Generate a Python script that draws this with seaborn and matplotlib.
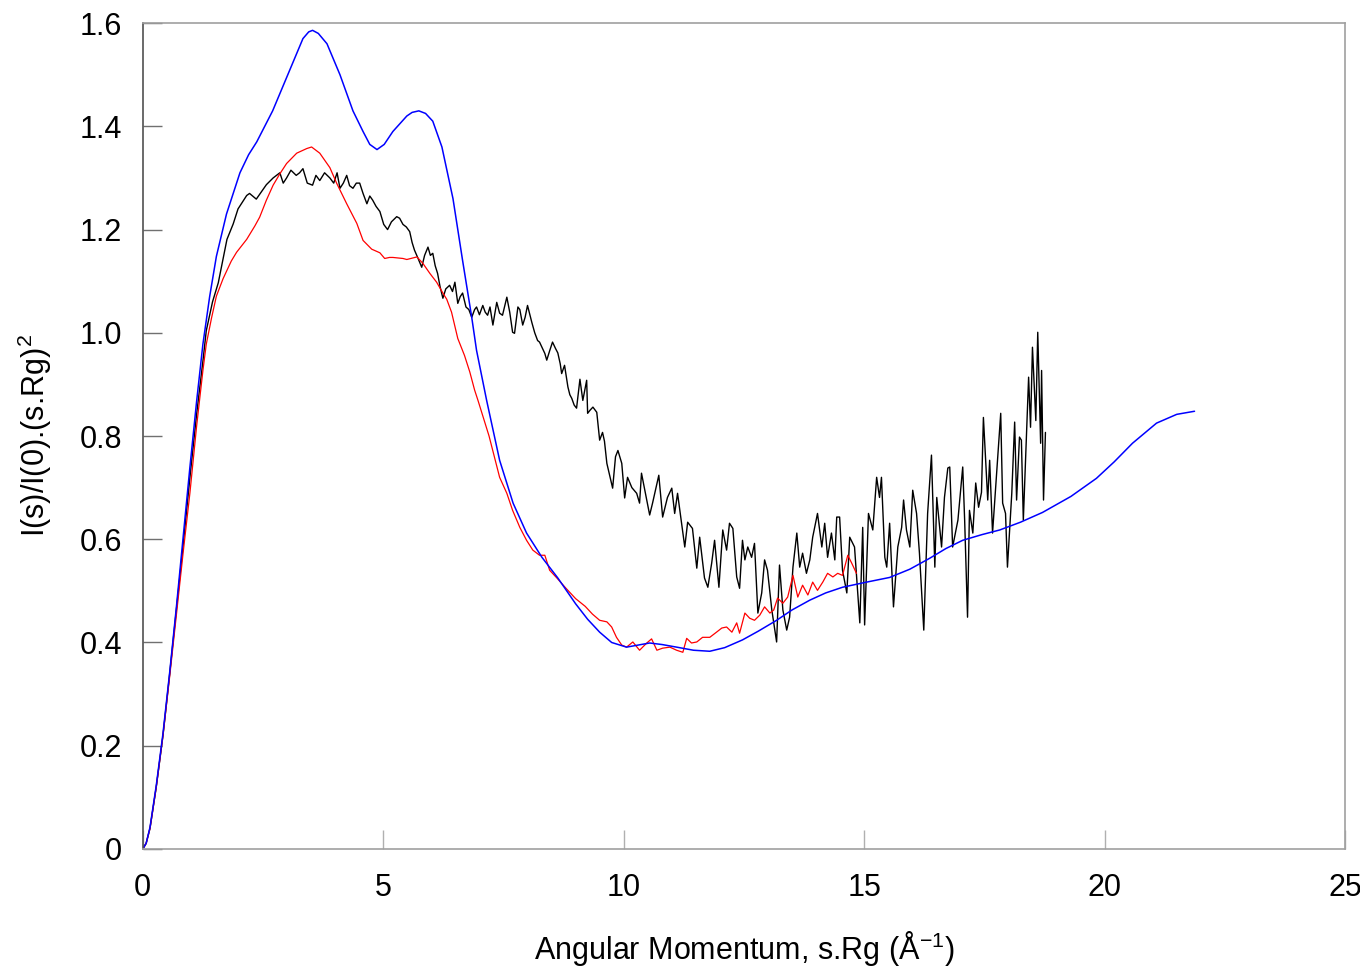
import numpy as np
import pandas as pd
import matplotlib
matplotlib.use("Agg")
import matplotlib.pyplot as plt
import seaborn as sns

# Section 1 - Data

blue_x = [0.0, 0.07, 0.15, 0.28, 0.42, 0.56, 0.70, 0.84, 0.98, 1.12, 1.25, 1.39, 1.53, 1.74, 2.02,
          2.20, 2.37, 2.70, 3.06, 3.33, 3.45, 3.53, 3.65, 3.83, 4.10, 4.37, 4.58, 4.72, 4.87,
          5.02, 5.20, 5.49, 5.60, 5.74, 5.88, 6.03, 6.22, 6.45, 6.65, 6.84, 6.94, 7.15, 7.42,
          7.70, 7.98, 8.30, 8.63, 9.00, 9.25, 9.50, 9.75, 10.06, 10.30, 10.54, 10.80, 11.10,
          11.45, 11.79, 12.10, 12.47, 12.80, 13.18, 13.50, 13.87, 14.20, 14.55, 15.00, 15.53,
          15.95, 16.36, 16.70, 17.05, 17.45, 17.82, 18.25, 18.71, 19.30, 19.83, 20.20, 20.58,
          21.08, 21.50, 21.87]
blue_y = [0.0, 0.011, 0.042, 0.123, 0.224, 0.343, 0.47, 0.605, 0.74, 0.868, 0.978, 1.07, 1.148, 1.23, 1.31,
          1.345, 1.37, 1.43, 1.51, 1.57, 1.583, 1.586, 1.58, 1.56, 1.50, 1.43, 1.39, 1.365, 1.355,
          1.365, 1.39, 1.42, 1.427, 1.43, 1.425, 1.41, 1.36, 1.26, 1.14, 1.03, 0.966, 0.869, 0.753,
          0.67, 0.612, 0.565, 0.525, 0.475, 0.445, 0.42, 0.40, 0.391, 0.395, 0.399, 0.396, 0.391,
          0.385, 0.383, 0.39, 0.405, 0.422, 0.443, 0.463, 0.482, 0.496, 0.507, 0.516, 0.526,
          0.542, 0.563, 0.582, 0.598, 0.609, 0.618, 0.633, 0.652, 0.683, 0.718, 0.75, 0.786,
          0.825, 0.842, 0.848]

black_x = [0.0, 0.07, 0.15, 0.28, 0.42, 0.56, 0.70, 0.84, 0.98, 1.12, 1.25, 1.32, 1.45, 1.57, 1.75, 1.88,
           1.98, 2.16, 2.22, 2.36, 2.57, 2.71, 2.85, 2.92, 2.99, 3.08, 3.19, 3.26, 3.33, 3.42,
           3.53, 3.60, 3.68, 3.78, 3.89, 3.97, 4.04, 4.10, 4.17, 4.24, 4.30, 4.37, 4.44, 4.51,
           4.58, 4.66, 4.72, 4.78, 4.85, 4.93, 5.01, 5.09, 5.17, 5.28, 5.34, 5.41, 5.48, 5.55,
           5.60, 5.65, 5.72, 5.80, 5.86, 5.93, 5.98, 6.03, 6.08, 6.13, 6.18, 6.24, 6.30, 6.38,
           6.44, 6.49, 6.55, 6.60, 6.65, 6.72, 6.78, 6.84, 6.90, 6.94, 7.00, 7.07, 7.12, 7.17,
           7.22, 7.28, 7.36, 7.42, 7.48, 7.57, 7.63, 7.69, 7.73, 7.80, 7.84, 7.90, 7.95, 8.00,
           8.05, 8.09, 8.15, 8.21, 8.25, 8.30, 8.36, 8.40, 8.46, 8.52, 8.58, 8.63, 8.68, 8.71,
           8.77, 8.84, 8.88, 8.92, 8.97, 9.02, 9.09, 9.12, 9.15, 9.23, 9.25, 9.30, 9.36, 9.44,
           9.50, 9.56, 9.60, 9.65, 9.77, 9.83, 9.88, 9.96, 10.02, 10.08, 10.17, 10.27, 10.33,
           10.37, 10.48, 10.54, 10.60, 10.73, 10.81, 10.91, 11.00, 11.06, 11.12, 11.20, 11.27,
           11.33, 11.43, 11.52, 11.58, 11.68, 11.75, 11.83, 11.89, 11.98, 12.06, 12.14, 12.20,
           12.27, 12.35, 12.41, 12.47, 12.52, 12.58, 12.66, 12.72, 12.79, 12.87, 12.93, 12.99,
           13.08, 13.18, 13.24, 13.31, 13.39, 13.45, 13.52, 13.60, 13.66, 13.72, 13.80, 13.87,
           13.93, 14.03, 14.12, 14.18, 14.24, 14.32, 14.39, 14.43, 14.49, 14.55, 14.64, 14.70,
           14.80, 14.91, 14.97, 15.01, 15.09, 15.18, 15.26, 15.32, 15.36, 15.43, 15.47, 15.53,
           15.61, 15.70, 15.78, 15.82, 15.88, 15.95, 16.01, 16.09, 16.15, 16.24, 16.32, 16.40,
           16.47, 16.51, 16.61, 16.67, 16.74, 16.78, 16.84, 16.95, 17.05, 17.09, 17.15, 17.19,
           17.26, 17.32, 17.38, 17.44, 17.48, 17.57, 17.61, 17.67, 17.73, 17.84, 17.88, 17.94,
           17.98, 18.07, 18.13, 18.17, 18.23, 18.27, 18.31, 18.38, 18.42, 18.46, 18.50, 18.57,
           18.61, 18.67, 18.69, 18.73, 18.77]
black_y = [0.0, 0.011, 0.04, 0.12, 0.22, 0.34, 0.465, 0.59, 0.72, 0.843, 0.945, 1.004, 1.06, 1.097, 1.181, 1.211,
           1.24, 1.266, 1.27, 1.259, 1.287, 1.30, 1.31, 1.29, 1.30, 1.315, 1.305, 1.31, 1.318, 1.29,
           1.286, 1.305, 1.295, 1.31, 1.30, 1.29, 1.31, 1.28, 1.29, 1.305, 1.285, 1.28, 1.29, 1.29,
           1.27, 1.25, 1.265, 1.257, 1.245, 1.235, 1.21, 1.20, 1.215, 1.225, 1.222, 1.21, 1.205, 1.196,
           1.175, 1.16, 1.145, 1.127, 1.15, 1.166, 1.15, 1.154, 1.13, 1.115, 1.09, 1.067, 1.085, 1.092,
           1.08, 1.098, 1.057, 1.07, 1.077, 1.05, 1.045, 1.03, 1.045, 1.05, 1.035, 1.053, 1.04, 1.034,
           1.05, 1.015, 1.059, 1.038, 1.034, 1.069, 1.04, 1.001, 0.999, 1.05, 1.045, 1.015, 1.03, 1.053,
           1.035, 1.02, 1.0, 0.985, 0.982, 0.972, 0.96, 0.947, 0.965, 0.982, 0.97, 0.961, 0.94, 0.921,
           0.937, 0.895, 0.88, 0.873, 0.86, 0.854, 0.91, 0.89, 0.869, 0.908, 0.844, 0.85, 0.856, 0.846,
           0.792, 0.807, 0.79, 0.747, 0.699, 0.76, 0.772, 0.747, 0.68, 0.72, 0.70, 0.689, 0.67,
           0.728, 0.676, 0.647, 0.67, 0.724, 0.643, 0.681, 0.699, 0.65, 0.689, 0.633, 0.585,
           0.633, 0.621, 0.544, 0.604, 0.525, 0.507, 0.554, 0.598, 0.507, 0.618, 0.579, 0.631,
           0.621, 0.527, 0.505, 0.598, 0.56, 0.585, 0.565, 0.592, 0.457, 0.496, 0.56, 0.54,
           0.463, 0.401, 0.55, 0.463, 0.424, 0.449, 0.546, 0.612, 0.546, 0.573, 0.534, 0.56,
           0.604, 0.65, 0.585, 0.631, 0.565, 0.612, 0.56, 0.643, 0.643, 0.54, 0.496, 0.604,
           0.585, 0.438, 0.623, 0.434, 0.65, 0.618, 0.72, 0.681, 0.72, 0.565, 0.546, 0.631,
           0.469, 0.585, 0.623, 0.676, 0.618, 0.585, 0.695, 0.65, 0.573, 0.424, 0.65, 0.763,
           0.546, 0.681, 0.585, 0.681, 0.738, 0.74, 0.585, 0.637, 0.74, 0.637, 0.449, 0.656,
           0.612, 0.709, 0.662, 0.691, 0.836, 0.676, 0.753, 0.612, 0.695, 0.844, 0.67, 0.65,
           0.546, 0.689, 0.827, 0.676, 0.798, 0.792, 0.637, 0.817, 0.914, 0.817, 0.972, 0.83,
           1.001, 0.786, 0.927, 0.676, 0.807]

red_x = [0.0, 0.07, 0.15, 0.28, 0.42, 0.56, 0.70, 0.84, 0.98, 1.12, 1.25, 1.32, 1.43, 1.53, 1.67, 1.84,
         1.95, 2.16, 2.33, 2.43, 2.57, 2.71, 2.85, 2.99, 3.20, 3.41, 3.51, 3.68, 3.89, 4.03, 4.24,
         4.45, 4.58, 4.76, 4.93, 5.03, 5.13, 5.20, 5.41, 5.49, 5.70, 5.82, 5.97, 6.11, 6.24, 6.32,
         6.42, 6.55, 6.69, 6.80, 6.90, 6.97, 7.20, 7.42, 7.57, 7.69, 7.84, 7.98, 8.11, 8.25, 8.36,
         8.46, 8.61, 8.80, 9.00, 9.20, 9.35, 9.50, 9.65, 9.75, 9.85, 9.96, 10.06, 10.19, 10.33,
         10.48, 10.58, 10.69, 10.81, 10.96, 11.10, 11.23, 11.31, 11.41, 11.52, 11.64, 11.79,
         11.93, 12.04, 12.14, 12.25, 12.35, 12.41, 12.52, 12.62, 12.72, 12.83, 12.93, 13.04,
         13.12, 13.20, 13.31, 13.41, 13.52, 13.62, 13.72, 13.83, 13.93, 14.03, 14.14, 14.24,
         14.35, 14.45, 14.55, 14.66, 14.74, 14.84]
red_y = [0.0, 0.011, 0.04, 0.12, 0.22, 0.335, 0.455, 0.575, 0.69, 0.82, 0.927, 0.978, 1.029, 1.071, 1.105, 1.139,
         1.156, 1.181, 1.207, 1.224, 1.257, 1.286, 1.308, 1.328, 1.348, 1.357, 1.36, 1.348, 1.32, 1.29, 1.25,
         1.212, 1.179, 1.162, 1.155, 1.144, 1.146, 1.146, 1.144, 1.142, 1.147, 1.135, 1.115, 1.098, 1.077, 1.065,
         1.04, 0.989, 0.956, 0.924, 0.889, 0.869, 0.80, 0.72, 0.689, 0.656, 0.623, 0.598, 0.579, 0.569, 0.569,
         0.54, 0.525, 0.505, 0.485, 0.47, 0.455, 0.443, 0.44, 0.43, 0.41, 0.395, 0.391, 0.401, 0.385,
         0.399, 0.407, 0.385, 0.389, 0.391, 0.385, 0.381, 0.408, 0.399, 0.401, 0.41, 0.41,
         0.42, 0.428, 0.43, 0.42, 0.438, 0.418, 0.457, 0.447, 0.443, 0.453, 0.469, 0.457,
         0.463, 0.486, 0.476, 0.488, 0.53, 0.488, 0.511, 0.492, 0.517, 0.501, 0.517, 0.534,
         0.527, 0.534, 0.53, 0.569, 0.554, 0.534]

x_ticks = [0, 5, 10, 15, 20, 25]
y_ticks = [0, 0.2, 0.4, 0.6, 0.8, 1.0, 1.2, 1.4, 1.6]
y_tick_labels = ["0", "0.2", "0.4", "0.6", "0.8", "1.0", "1.2", "1.4", "1.6"]

# Section 2 - Style

sns.set_style("white")
plt.rcParams["font.family"] = ["Liberation Sans", "DejaVu Sans"]
plt.rcParams["mathtext.fontset"] = "custom"
plt.rcParams["mathtext.rm"] = "Liberation Sans"
plt.rcParams["mathtext.it"] = "Liberation Sans"
plt.rcParams["text.color"] = "black"
plt.rcParams["axes.labelcolor"] = "black"

fig = plt.figure(figsize=(13.6, 9.71), dpi=100)
ax = fig.add_axes([0.105, 0.1257, 0.884, 0.8505])

# Section 3 - Lines

black_df = pd.DataFrame({"x": black_x, "y": black_y})
red_df = pd.DataFrame({"x": red_x, "y": red_y})
blue_df = pd.DataFrame({"x": blue_x, "y": blue_y})

sns.lineplot(data=black_df, x="x", y="y", ax=ax, color="black", linewidth=1.0,
             estimator=None, sort=False)
sns.lineplot(data=red_df, x="x", y="y", ax=ax, color="#ff0000", linewidth=0.9,
             estimator=None, sort=False)
sns.lineplot(data=blue_df, x="x", y="y", ax=ax, color="#0000ff", linewidth=1.1,
             estimator=None, sort=False)

# Section 4 - Axes

ax.set_xlim(0, 25)
ax.set_ylim(0, 1.6)
ax.set_xticks(x_ticks)
ax.set_xticklabels([str(t) for t in x_ticks])
ax.set_yticks(y_ticks)
ax.set_yticklabels(y_tick_labels)

ax.tick_params(axis="x", direction="in", length=14, width=1.0, color="#b0b0b0",
               labelsize=22, pad=17, bottom=True, labelcolor="black")
ax.tick_params(axis="y", direction="in", length=14, width=1.0, color="#707070",
               labelsize=22, pad=15, left=True, labelcolor="black")

for side in ["top", "right", "bottom"]:
    ax.spines[side].set_color("#a0a0a0")
    ax.spines[side].set_linewidth(1.2)
ax.spines["left"].set_color("#505050")
ax.spines["left"].set_linewidth(1.2)

ax.set_xlabel("Angular Momentum, s.Rg (Å$^{-1}$)", fontsize=22, labelpad=19, color="black")
ax.set_ylabel("I(s)/I(0).(s.Rg)$^{2}$", fontsize=22, labelpad=18, color="black")
ax.grid(False)

fig.savefig("out.png", dpi=100)
